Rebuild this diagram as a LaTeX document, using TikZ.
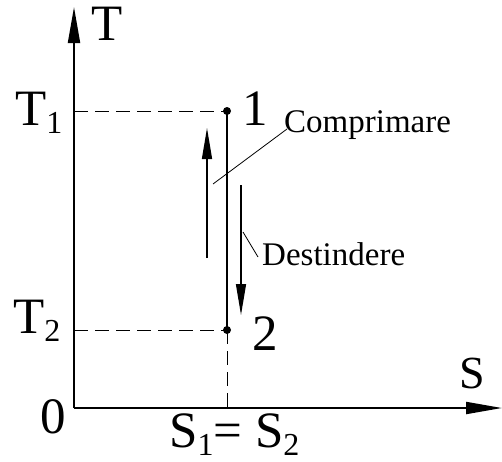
\documentclass[tikz,border=0pt]{standalone}
\usepackage{fontspec}
\setmainfont{Liberation Serif}
\usetikzlibrary{arrows.meta,positioning}

\newcommand\bigtxt{\fontsize{51}{60}\selectfont}
\newcommand\smalltxt{\fontsize{33}{40}\selectfont}
\newcommand\lowsub[1]{\raisebox{-8pt}{\fontsize{32}{36}\selectfont #1}}

\begin{document}
\begin{tikzpicture}[x=1pt, y=-1pt,
  lbl/.style={font=\bigtxt, inner sep=0, anchor=base},
  note/.style={font=\smalltxt, inner sep=0, anchor=base west},
  dot/.style={circle, fill, inner sep=0, minimum size=8pt},
  axis/.style={line width=2pt, -{Triangle[length=36pt,width=12pt]}},
  flow/.style={line width=1.4pt, -{Triangle[length=31pt,width=10pt]}},
  guide/.style={line width=1pt, dash pattern=on 14pt off 7pt},
  leader/.style={line width=0.8pt}]
  \useasboundingbox (0,0) rectangle (502,461);

  % axes
  \coordinate (O) at (74,408);
  \coordinate (ytop) at (74,7);
  \coordinate (xend) at (502,408);
  \draw[axis] (O) -- (ytop);
  \draw[axis] (O) -- (xend);

  % states
  \node[dot] (p1) at (227,111) {};
  \node[dot] (p2) at (227,330) {};
  \coordinate (t1) at (74,111);
  \coordinate (t2) at (74,330);
  \coordinate (s12) at (227,408);
  \draw[guide] (t1) -- (p1.center);
  \draw[guide] (t2) -- (p2.center);
  \draw[guide] (p2.center) -- (s12);
  \draw[line width=1.8pt] (p1.center) -- (p2.center);

  % process arrows
  \coordinate (upA) at (207,258);
  \coordinate (upB) at (207,128);
  \coordinate (dnA) at (241,185);
  \coordinate (dnB) at (241,315);
  \draw[flow] (upA) -- (upB);
  \draw[flow] (dnA) -- (dnB);

  % labels
  \node[lbl] (lT) at (107,40) {T};
  \node[lbl, anchor=base west] (lT1) at (15,125) {T\lowsub{1}};
  \node[lbl, anchor=base west] (lT2) at (13,333) {T\lowsub{2}};
  \node[lbl] (l1) at (255,125) {1};
  \node[lbl] (l2) at (265,350) {2};
  \node[lbl] (l0) at (53,433) {0};
  \node[lbl, font=\fontsize{46}{54}\selectfont] (lS) at (472,388) {S};
  \node[lbl, anchor=base west] (lS12) at (169,447) {S\lowsub{1}= S\lowsub{2}};

  \node[note] (comp) at (284,132) {Comprimare};
  \node[note] (dest) at (262,265) {Destindere};
  \coordinate (cl) at (213,184);
  \coordinate (dl) at (243,232);
  \draw[leader] (cl) -- ([shift={(3pt,3pt)}]comp.base west);
  \draw[leader] (dl) -- ([shift={(-4pt,8pt)}]dest.base west);
\end{tikzpicture}
\end{document}
